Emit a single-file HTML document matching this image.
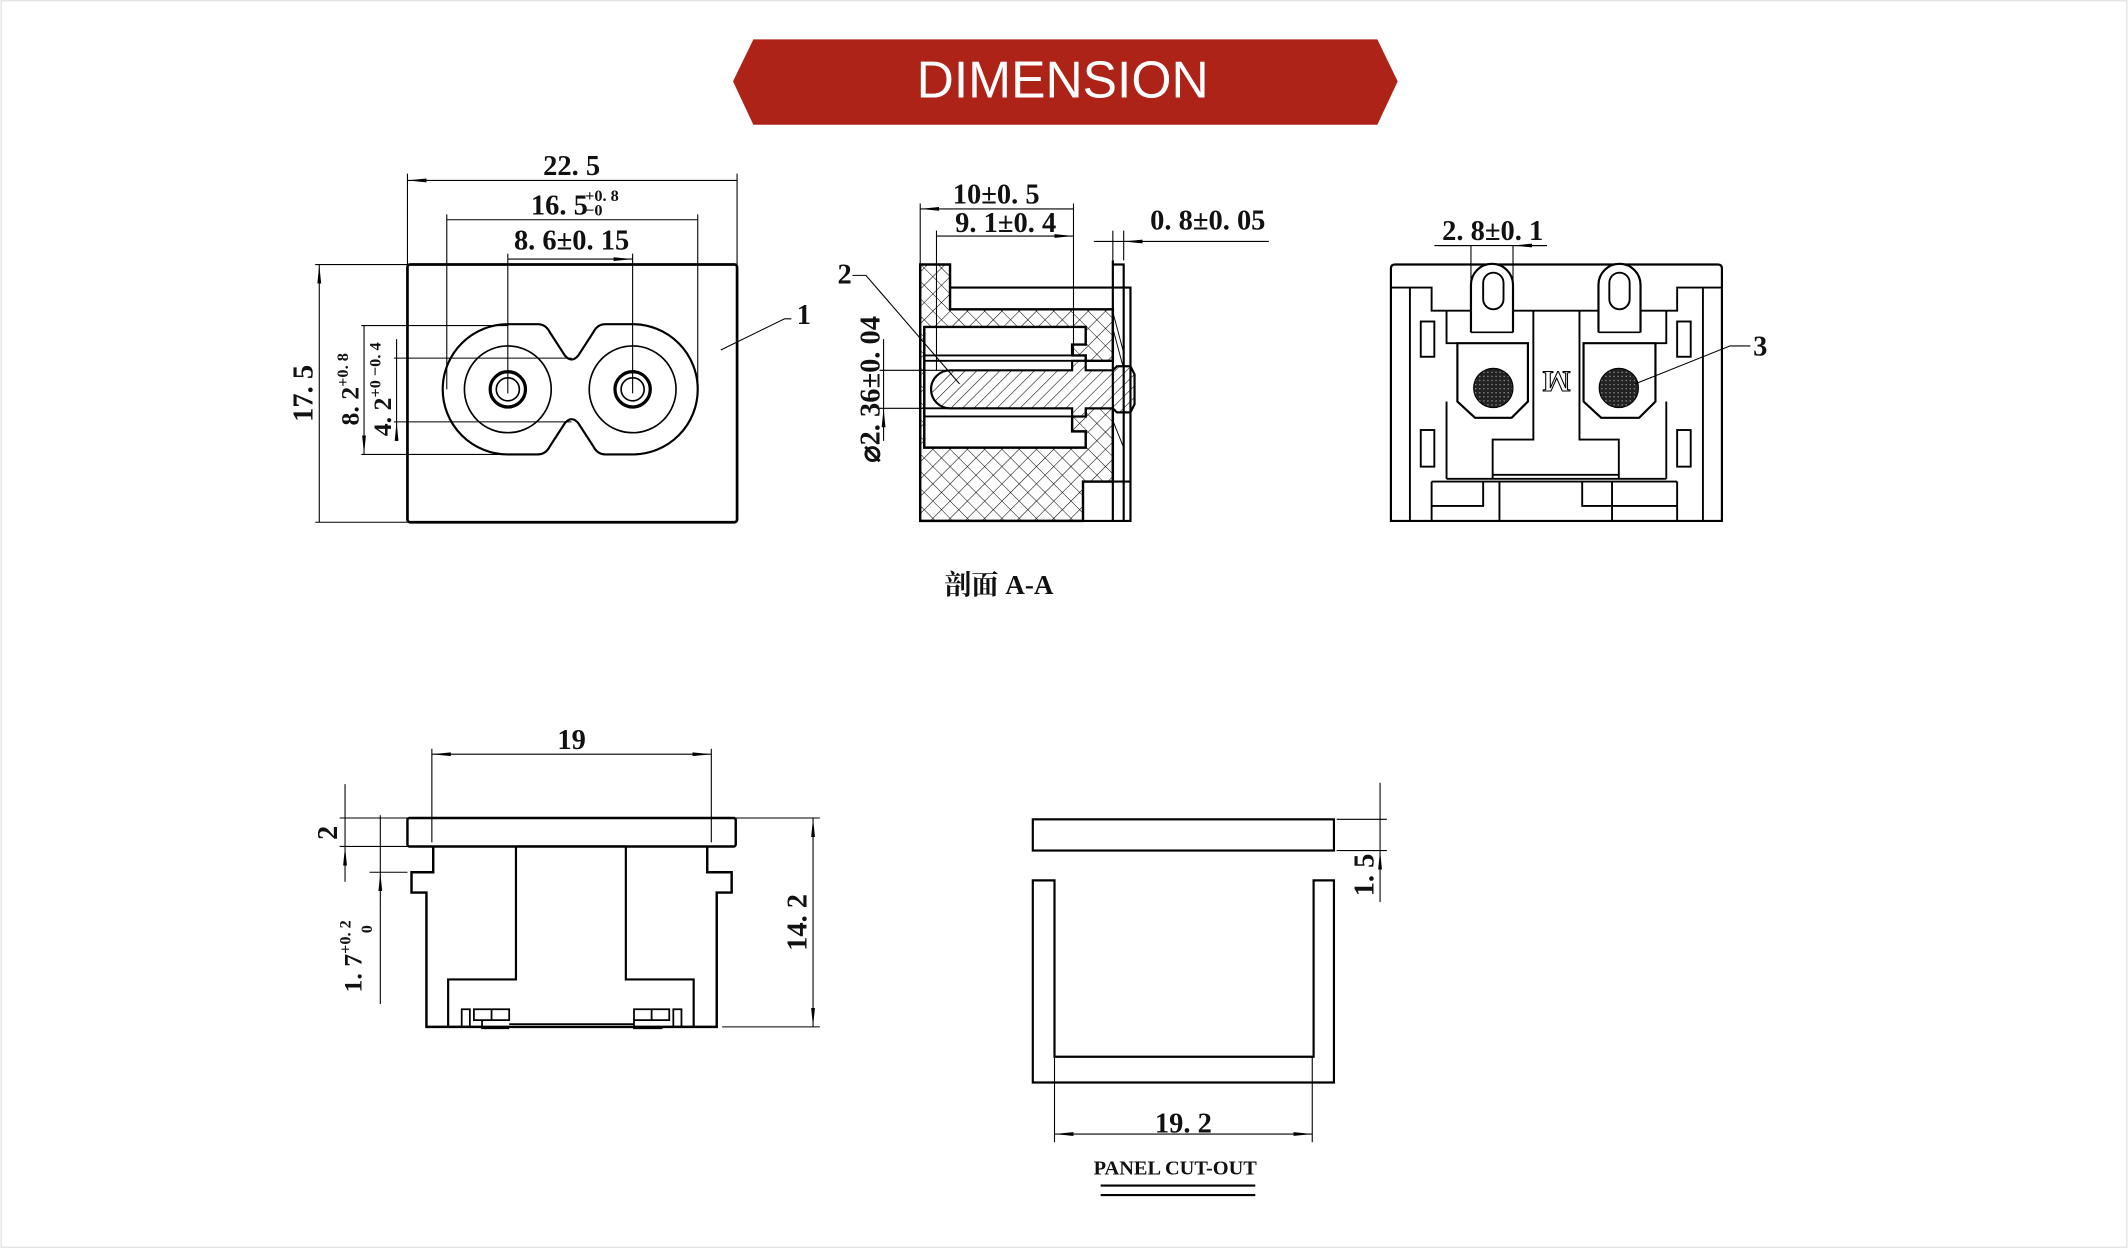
<!DOCTYPE html>
<html><head><meta charset="utf-8"><style>
html,body{margin:0;padding:0;background:#fff;}
svg{display:block;}
.t{font-family:"Liberation Serif","Noto Serif CJK SC",serif;font-weight:bold;fill:#111;}
</style></head><body>
<svg width="2128" height="1248" viewBox="0 0 1568 920" xmlns="http://www.w3.org/2000/svg">
<defs>
<marker id="a" viewBox="0 0 14 4" refX="14" refY="2" markerWidth="14" markerHeight="4" markerUnits="userSpaceOnUse" orient="auto-start-reverse"><path d="M0,0.6 L14,2 L0,3.4Z" fill="#000"/></marker>
<pattern id="x" width="9" height="9" patternUnits="userSpaceOnUse" patternTransform="rotate(45)"><rect width="9" height="9" fill="#fff"/><path d="M0,0H9M0,0V9" stroke="#000" stroke-width="0.8"/></pattern>
<pattern id="d" width="6" height="6" patternUnits="userSpaceOnUse" patternTransform="rotate(45)"><rect width="6" height="6" fill="#fff"/><path d="M0,0V6" stroke="#000" stroke-width="0.8"/></pattern>
<pattern id="k" width="3" height="3" patternUnits="userSpaceOnUse"><rect width="3" height="3" fill="#222"/><rect x="1" y="1" width="1" height="1" fill="#888"/></pattern>
</defs>
<rect x="0.5" y="0.5" width="1567" height="919" fill="#fff" stroke="#e4e4e4"/>
<!-- banner -->
<polygon points="540,60 555,29 1015,29 1030,60 1015,92 555,92" fill="#ad2318"/>
<text x="783" y="72" text-anchor="middle" font-family="Liberation Sans,sans-serif" font-size="38" fill="#fff">DIMENSION</text>

<g fill="none" stroke="#000" stroke-width="0.8">
<!-- FRONT VIEW -->
<rect x="300" y="195" width="243" height="190" rx="2" stroke-width="2"/>
<path d="M374,239 L396,239 Q402,239 405,245 L416,262 Q421,268 426,262 L437,245 Q440,239 446,239 L466,239 A48,48 0 0 1 466,335 L446,335 Q440,335 437,329 L426,312 Q421,306 416,312 L405,329 Q402,335 396,335 L374,335 A48,48 0 0 1 374,239Z" stroke-width="1.6"/>
<circle cx="374" cy="287" r="32" stroke-width="1.2"/>
<circle cx="466" cy="287" r="32" stroke-width="1.2"/>
<circle cx="374" cy="287" r="13" stroke-width="2.4"/><circle cx="374" cy="287" r="8.5" stroke-width="1.2"/>
<circle cx="466" cy="287" r="13" stroke-width="2.4"/><circle cx="466" cy="287" r="8.5" stroke-width="1.2"/>
<path d="M300,128V195M543,128V195M329,158V287M514,158V287M374,187V290M466,187V290"/>
<path d="M300,133H543M329,162H514M374,191H466" marker-start="url(#a)" marker-end="url(#a)"/>
<path d="M232,195H300M232,385H300M266,240H374M266,335H374M290,264H421M290,311H421"/>
<path d="M235,195V385M268,240V335" marker-start="url(#a)" marker-end="url(#a)"/>
<path d="M292,250V264M292,325V311" marker-end="url(#a)"/><path d="M292,264V311"/>
<path d="M531,258L578,235H583"/>

<!-- SECTION A-A -->
<path d="M678,195H700V228H820V266H800V262H790V254H800V241H681V330H800V318H790V307H800V301H820V355H798V384H678Z" fill="url(#x)" stroke-width="1.8"/>
<path d="M681,262H790M681,266H800M681,301H790M681,307H800" stroke-width="1.4"/>
<path d="M700,273H790V266H800V273H820L823,270H833L836,276V298L833,304H823L820,301H800V307H790V301H700A14,14 0 0 1 700,273Z" fill="url(#d)" stroke-width="1.6"/>
<path d="M700,212H828M820,195H828V384M820,192V384M828,212H833V384M798,355H833V384H798" stroke-width="1.6"/>
<path d="M820,230L828,260M820,242L828,272M820,310L828,330" stroke-width="0.7"/>
<path d="M678,150V195M690,170V273M791,150V262M820,170V192M828,170V192"/>
<path d="M678,154H791M690,174H791" marker-start="url(#a)" marker-end="url(#a)"/>
<path d="M806,178H820M842,178H828" marker-end="url(#a)"/><path d="M820,178H935"/>
<path d="M628,203H638L707,283"/>
<path d="M648,273H700M648,301H700"/>
<path d="M651,250V273M651,325V301" marker-end="url(#a)"/><path d="M651,273V301"/>

<!-- REAR VIEW -->
<path d="M1025,384V198Q1025,195 1028,195H1266Q1269,195 1269,198V384Z" stroke-width="1.6"/>
<path d="M1025,212H1055V229H1084M1115,229H1178M1208,229H1236V212H1269M1039,212V384M1055,212V229M1255,212V384M1236,212V229" stroke-width="1.4"/>
<path d="M1084,245V210A15.5,15.5 0 0 1 1115,210V245M1178,245V210A15.5,15.5 0 0 1 1209,210V245" fill="#fff" stroke-width="1.6"/>
<rect x="1093" y="201" width="15" height="27" rx="7.5" stroke-width="1.4"/>
<rect x="1186" y="201" width="15" height="27" rx="7.5" stroke-width="1.4"/>
<path d="M1084,245H1115M1178,245H1209" stroke-width="1.2"/>
<path d="M1074,253H1126V296L1114,308H1087L1074,296Z M1167,253H1220V296L1208,308H1180L1167,296Z" stroke-width="1.6"/>
<circle cx="1100.5" cy="286" r="14.5" fill="url(#k)"/>
<circle cx="1193" cy="286" r="14.5" fill="url(#k)"/>
<path d="M1066,229V253H1074M1066,296V353M1228,229V253H1220M1228,296V353M1130,229V324H1100V353M1164,229V324H1193V353M1066,353H1228M1100,350H1193" stroke-width="1.4"/>
<path d="M1055,355H1236M1055,355V384M1236,355V384M1055,373H1093V355M1166,355V373H1236M1105,355V384M1188,355V384" stroke-width="1.4"/>
<rect x="1047" y="237" width="10" height="26" stroke-width="1.4"/><rect x="1047" y="317" width="10" height="27" stroke-width="1.4"/>
<rect x="1236" y="237" width="10" height="26" stroke-width="1.4"/><rect x="1236" y="317" width="10" height="27" stroke-width="1.4"/>
<path d="M1084,181V245M1115,181V245"/>
<path d="M1060,181H1084M1140,181H1115" marker-end="url(#a)"/><path d="M1057,181H1140"/>
<path d="M1290,255H1275L1205,283"/>

<!-- SIDE VIEW -->
<rect x="300" y="603" width="242" height="21" rx="1.5" stroke-width="1.8"/>
<path d="M319,624V643H303V658H314V757H528V658H539V643H521V624" stroke-width="1.8"/>
<path d="M380,624H461V722H511V757M380,624V722H330V757" stroke-width="1.6"/>
<path d="M340,757V744H346V757M349,744H375V752H349Z M362,744V752M496,757V744H502V757M467,744H493V752H467Z M480,744V752M375,755H467M355,752V758H375M467,752V758H488" stroke-width="1.3"/>
<path d="M318,552V621M524,552V621"/>
<path d="M318,556H524" marker-start="url(#a)" marker-end="url(#a)"/>
<path d="M250,603H300M250,624H300M272,643H300M532,603H604M532,757H604"/>
<path d="M254,578V603M254,650V624" marker-end="url(#a)"/><path d="M254,603V624"/>
<path d="M280,601V624M280,670V643" marker-end="url(#a)"/><path d="M280,624V643M280,670V740"/>
<path d="M599,603V757" marker-start="url(#a)" marker-end="url(#a)"/>

<!-- PANEL CUT-OUT -->
<rect x="761" y="604" width="222" height="23" stroke-width="1.6"/>
<path d="M761,649V798H983V649H968V779H777V649Z" stroke-width="1.6"/>
<path d="M985,604H1022M985,627H1022M777,779V842M967,779V842"/>
<path d="M1017,577V604M1017,665V627" marker-end="url(#a)"/><path d="M1017,604V627"/>
<path d="M777,836H967" marker-start="url(#a)" marker-end="url(#a)"/>
<path d="M811,874H925M811,881H925" stroke-width="1.6"/>
</g>

<g class="t" font-size="21">
<text x="421" y="129" text-anchor="middle">22. 5</text>
<text x="412" y="158" text-anchor="middle">16. 5</text>
<text x="431" y="148" font-size="12">+0. 8</text><text x="431" y="159" font-size="12">−0</text>
<text x="421" y="184" text-anchor="middle">8. 6±0. 15</text>
<text transform="translate(230,290) rotate(-90)" text-anchor="middle">17. 5</text>
<text transform="translate(264,287) rotate(-90)" text-anchor="middle" font-size="19">8. 2<tspan font-size="12" dy="-8">+0. 8</tspan></text>
<text transform="translate(288,287) rotate(-90)" text-anchor="middle" font-size="19">4. 2<tspan font-size="12" dy="-8">+0 −0. 4</tspan></text>
<text x="587" y="239">1</text>
<text x="734" y="150" text-anchor="middle">10±0. 5</text>
<text x="741" y="171" text-anchor="middle">9. 1±0. 4</text>
<text x="890" y="169" text-anchor="middle">0. 8±0. 05</text>
<text x="617" y="209">2</text>
<text transform="translate(648,287) rotate(-90)" text-anchor="middle">⌀2. 36±0. 04</text>
<text x="736" y="438" text-anchor="middle" font-size="20">剖面 A-A</text>
<text x="1100" y="177" text-anchor="middle">2. 8±0. 1</text>
<text x="1292" y="262">3</text>
<text x="1147" y="290" text-anchor="middle" font-size="22" transform="rotate(180 1147 282)" fill="#fff" stroke="#000" stroke-width="0.8">M</text>
<text x="421" y="552" text-anchor="middle">19</text>
<text transform="translate(248,614) rotate(-90)" text-anchor="middle">2</text>
<text transform="translate(266,705) rotate(-90)" text-anchor="middle" font-size="19">1. 7<tspan font-size="12" dy="-8">+0. 2</tspan></text>
<text transform="translate(274,688) rotate(-90)" font-size="12">0</text>
<text transform="translate(594,680) rotate(-90)" text-anchor="middle">14. 2</text>
<text transform="translate(1012,645) rotate(-90)" text-anchor="middle">1. 5</text>
<text x="872" y="835" text-anchor="middle">19. 2</text>
<text x="866" y="866" text-anchor="middle" font-size="15">PANEL CUT-OUT</text>
</g>
</svg>
</body></html>
